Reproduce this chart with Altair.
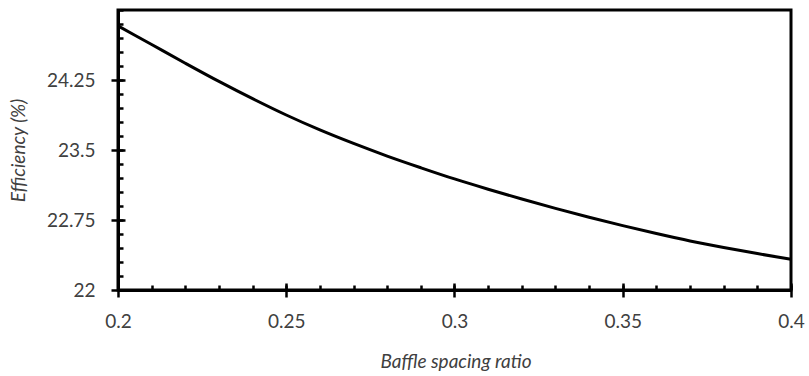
import altair as alt
import pandas as pd

x_vals = [0.20, 0.21, 0.22, 0.23, 0.24, 0.25, 0.26, 0.27, 0.28, 0.29, 0.30,
          0.31, 0.32, 0.33, 0.34, 0.35, 0.36, 0.37, 0.38, 0.39, 0.40]
eff_vals = [24.83, 24.63, 24.43, 24.235, 24.05, 23.875, 23.715, 23.57, 23.435, 23.31, 23.19,
            23.08, 22.975, 22.875, 22.78, 22.69, 22.605, 22.525, 22.455, 22.39, 22.33]

x_major = [0.2, 0.25, 0.3, 0.35, 0.4]
x_minor = [round(0.2 + 0.01 * i, 2) for i in range(21)]
y_major = [22, 22.75, 23.5, 24.25]
y_minor = [round(22 + 0.15 * i, 2) for i in range(21)]

df = pd.DataFrame({"x": x_vals, "y": eff_vals})

W, H = 673, 280
FONT = "Lato"
TXT = "#404040"
FS = 19
xscale = alt.Scale(domain=[0.2, 0.4], nice=False, zero=False)
yscale = alt.Scale(domain=[22, 25], nice=False, zero=False)

base = alt.Chart(df)

main = base.mark_line(color="black", strokeWidth=3, interpolate="monotone").encode(
    x=alt.X("x:Q", scale=xscale, axis=alt.Axis(
        orient="bottom", values=x_major, format=".2~f", tickSize=7, tickWidth=2.5,
        tickColor="black", domain=True, domainColor="black", domainWidth=3,
        labelFont=FONT, labelFontSize=FS, labelColor=TXT, labelPadding=15, labelFlush=False,
        grid=False, title="Baffle spacing ratio", titleFont=FONT, titleFontSize=FS,
        titleFontStyle="italic", titleFontWeight="normal", titleColor=TXT,
        titleBaseline="alphabetic", titleY=77, titleX=W / 2 + 1, titleAlign="center")),
    y=alt.Y("y:Q", scale=yscale, axis=alt.Axis(
        orient="left", values=y_major, format=".4~g", tickSize=7, tickWidth=2.5,
        tickColor="black", domain=True, domainColor="black", domainWidth=3,
        labelFont=FONT, labelFontSize=FS, labelColor=TXT, labelPadding=16, labelFlush=False,
        grid=False, title="Efficiency (%)", titleFont=FONT, titleFontSize=FS,
        titleFontStyle="italic", titleFontWeight="normal", titleColor=TXT,
        titleBaseline="alphabetic", titleAngle=270, titleX=-94, titleY=H / 2, titleAlign="center")),
)

inner_minor = base.mark_line(opacity=0).encode(
    x=alt.X("x:Q", scale=xscale, axis=alt.Axis(
        orient="top", offset=-H, values=x_minor, tickSize=5, tickWidth=2.5, tickColor="black",
        labels=False, domain=False, grid=False, title=None)),
    y=alt.Y("y:Q", scale=yscale, axis=alt.Axis(
        orient="right", offset=-W, values=y_minor, tickSize=5, tickWidth=2.5, tickColor="black",
        labels=False, domain=False, grid=False, title=None)),
)

inner_major = base.mark_line(opacity=0).encode(
    x=alt.X("x:Q", scale=xscale, axis=alt.Axis(
        orient="top", offset=-H, values=x_major, tickSize=7, tickWidth=2.5, tickColor="black",
        labels=False, domain=False, grid=False, title=None)),
    y=alt.Y("y:Q", scale=yscale, axis=alt.Axis(
        orient="right", offset=-W, values=y_major, tickSize=7, tickWidth=2.5, tickColor="black",
        labels=False, domain=False, grid=False, title=None)),
)

chart = alt.layer(main, inner_minor, inner_major).resolve_axis(
    x="independent", y="independent"
).properties(
    width=W, height=H,
    autosize=alt.AutoSizeParams(type="none"),
    padding={"left": 118, "top": 10, "right": 18, "bottom": 86},
    background="white",
).configure_view(stroke="black", strokeWidth=3)

chart.save("out.html", embed_options={"renderer": "svg", "actions": False})
